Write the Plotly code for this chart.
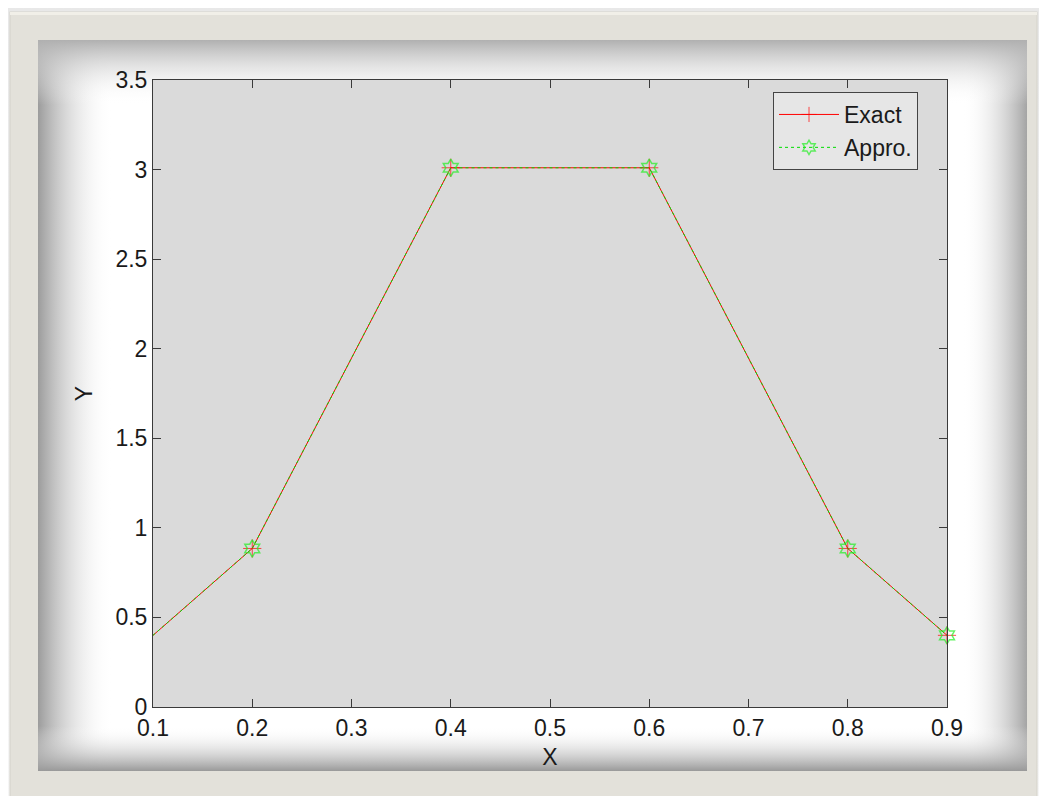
import base64
import plotly.graph_objects as go

# ---- data ----
x_vals = [0.1, 0.2, 0.4, 0.6, 0.8, 0.9]
exact_vals = [0.40, 0.885, 3.01, 3.01, 0.885, 0.40]
approx_vals = [0.40, 0.885, 3.01, 3.01, 0.885, 0.40]
marker_shown = [0, 1, 1, 1, 1, 1]
x_ticks = [0.1, 0.2, 0.3, 0.4, 0.5, 0.6, 0.7, 0.8, 0.9]
y_ticks = [0, 0.5, 1, 1.5, 2, 2.5, 3, 3.5]
series_names = ["Exact", "Appro."]

W, H = 1047, 796
OFF = 8  # page body offset
L, R, T, B = 145, 108, 72, 97
pw, ph = W - L - R, H - T - B


def px(x_ref):
    return (x_ref - OFF - L) / pw


def py(y_ref):
    return (H - B - (y_ref - OFF)) / ph


# background frame + vignette (decoration), in figure pixel coords
fx0, fy0, fx1, fy1 = 10 - OFF, 12 - OFF, 1037 - OFF, 810
ix0, iy0, ix1, iy1 = 38 - OFF, 40 - OFF, 1027 - OFF, 771 - OFF
iw, ih = ix1 - ix0, iy1 - iy0
svg = f'''<svg xmlns="http://www.w3.org/2000/svg" width="{W}" height="{H}" viewBox="0 0 {W} {H}">
<defs>
<linearGradient id="l" x1="0" y1="0" x2="1" y2="0"><stop offset="0" stop-color="#9c9c9c" stop-opacity="1"/><stop offset="1" stop-color="#ffffff" stop-opacity="0"/></linearGradient>
<linearGradient id="r" x1="1" y1="0" x2="0" y2="0"><stop offset="0" stop-color="#a4a4a4" stop-opacity="1"/><stop offset="1" stop-color="#ffffff" stop-opacity="0"/></linearGradient>
<linearGradient id="t" x1="0" y1="0" x2="0" y2="1"><stop offset="0" stop-color="#b0b0b0" stop-opacity="1"/><stop offset="1" stop-color="#ffffff" stop-opacity="0"/></linearGradient>
<linearGradient id="b" x1="0" y1="1" x2="0" y2="0"><stop offset="0" stop-color="#999999" stop-opacity="1"/><stop offset="1" stop-color="#ffffff" stop-opacity="0"/></linearGradient>
<linearGradient id="top" x1="0" y1="0" x2="0" y2="1"><stop offset="0" stop-color="#e8e8e8"/><stop offset="1" stop-color="#f6f6f6"/></linearGradient>
</defs>
<rect x="0" y="0" width="{W}" height="{H}" fill="url(#top)"/>
<rect x="{fx0}" y="{fy0}" width="{fx1 - fx0}" height="{fy1 - fy0}" fill="#e3e1da" stroke="#d4d2ca" stroke-width="1"/>
<rect x="{fx0}" y="{fy0}" width="{fx1 - fx0}" height="3" fill="#f1efe8"/>
<rect x="{ix0}" y="{iy0}" width="{iw}" height="{ih}" fill="#ffffff"/>
<rect x="{ix0}" y="{iy0}" width="75" height="{ih}" fill="url(#l)"/>
<rect x="{ix1 - 65}" y="{iy0}" width="65" height="{ih}" fill="url(#r)"/>
<rect x="{ix0}" y="{iy0}" width="{iw}" height="65" fill="url(#t)"/>
<rect x="{ix0}" y="{iy1 - 45}" width="{iw}" height="45" fill="url(#b)"/>
</svg>'''
svg_uri = "data:image/svg+xml;base64," + base64.b64encode(svg.encode()).decode()

fig = go.Figure()

fig.add_trace(go.Scatter(
    x=x_vals, y=exact_vals, name=series_names[0], mode="lines+markers",
    line=dict(color="#ff0000", width=1),
    marker=dict(symbol="cross-thin-open", size=[13 * m for m in marker_shown],
                color="#ff0000", line=dict(color="#ff0000", width=1)),
    cliponaxis=False,
))
fig.add_trace(go.Scatter(
    x=x_vals, y=approx_vals, name=series_names[1], mode="lines+markers",
    line=dict(color="#00dd00", width=1, dash="dot"),
    marker=dict(symbol="hexagram-open", size=[13 * m for m in marker_shown],
                color="#22ee22", line=dict(color="#22ee22", width=1.5)),
    cliponaxis=False,
))

FONT = "Liberation Sans, Arial, sans-serif"
axis_common = dict(
    showgrid=False, zeroline=False, showline=True, linecolor="#3a3a3a", linewidth=1,
    mirror="ticks", ticks="inside", ticklen=8, tickcolor="#3a3a3a", tickwidth=1,
    tickfont=dict(family=FONT, size=23, color="#1a1a1a"),
    title_font=dict(family=FONT, size=23, color="#1a1a1a"),
)

fig.update_layout(
    width=W, height=H,
    paper_bgcolor="#f2f2f2",
    plot_bgcolor="#dadada",
    margin=dict(l=L, r=R, t=T, b=B, pad=0),
    xaxis=dict(range=[0.1, 0.9], tickvals=x_ticks, ticktext=[f"{v:g}" for v in x_ticks],
               title=dict(text="X", standoff=9), **axis_common),
    yaxis=dict(range=[0, 3.5], tickvals=y_ticks, ticktext=[f"{v:g}" for v in y_ticks],
               title=dict(text="Y", standoff=16), **axis_common),
    legend=dict(x=px(918), y=py(92), xanchor="right", yanchor="top",
                bgcolor="#e6e6e6", bordercolor="#444444", borderwidth=1,
                font=dict(family=FONT, size=23, color="#1a1a1a"),
                itemwidth=60, tracegroupgap=0),
    showlegend=True,
    shapes=[dict(type="rect", xref="paper", yref="paper", layer="below",
                 x0=0, x1=1, y0=0, y1=1, line=dict(width=0), fillcolor="#dadada")],
)

fig.add_layout_image(dict(
    source=svg_uri, xref="paper", yref="paper",
    x=-L / pw, y=1 + T / ph, sizex=W / pw, sizey=H / ph,
    xanchor="left", yanchor="top", sizing="stretch", layer="below",
))

fig.write_html("out.html")
